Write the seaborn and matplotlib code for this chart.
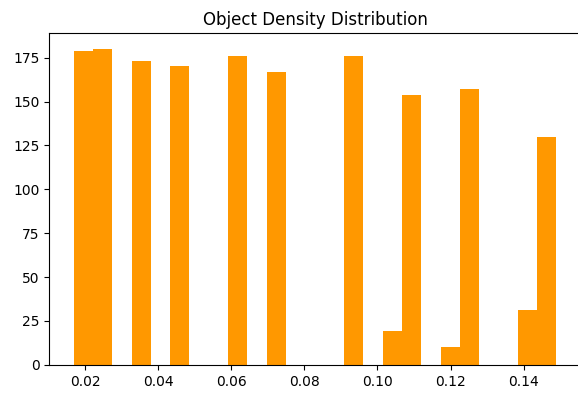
import numpy as np
import pandas as pd
import matplotlib
matplotlib.use("Agg")
import matplotlib.pyplot as plt
import seaborn as sns

# distinct density values and how many objects have each
density_values = [0.0168, 0.0230, 0.0345, 0.0460, 0.0625, 0.0730, 0.0930,
                  0.1030, 0.1085, 0.1190, 0.1240, 0.1420, 0.1490]
density_counts = [179, 180, 173, 170, 176, 167, 176, 19, 154, 10, 157, 31, 130]

df = pd.DataFrame({"density": np.repeat(density_values, density_counts)})

fig = plt.figure(figsize=(5.78, 3.94), dpi=100)
ax = fig.add_axes([0.0855, 0.074, 0.919, 0.842])
sns.histplot(data=df, x="density", bins=25, color="#ff9800", alpha=1.0,
             edgecolor="none", linewidth=0, ax=ax)
ax.set_title("Object Density Distribution")
ax.set_xlabel("")
ax.set_ylabel("")
ax.set_xticks([0.02, 0.04, 0.06, 0.08, 0.10, 0.12, 0.14])
ax.set_xticklabels(["0.02", "0.04", "0.06", "0.08", "0.10", "0.12", "0.14"])
fig.savefig("out.png", dpi=100)
